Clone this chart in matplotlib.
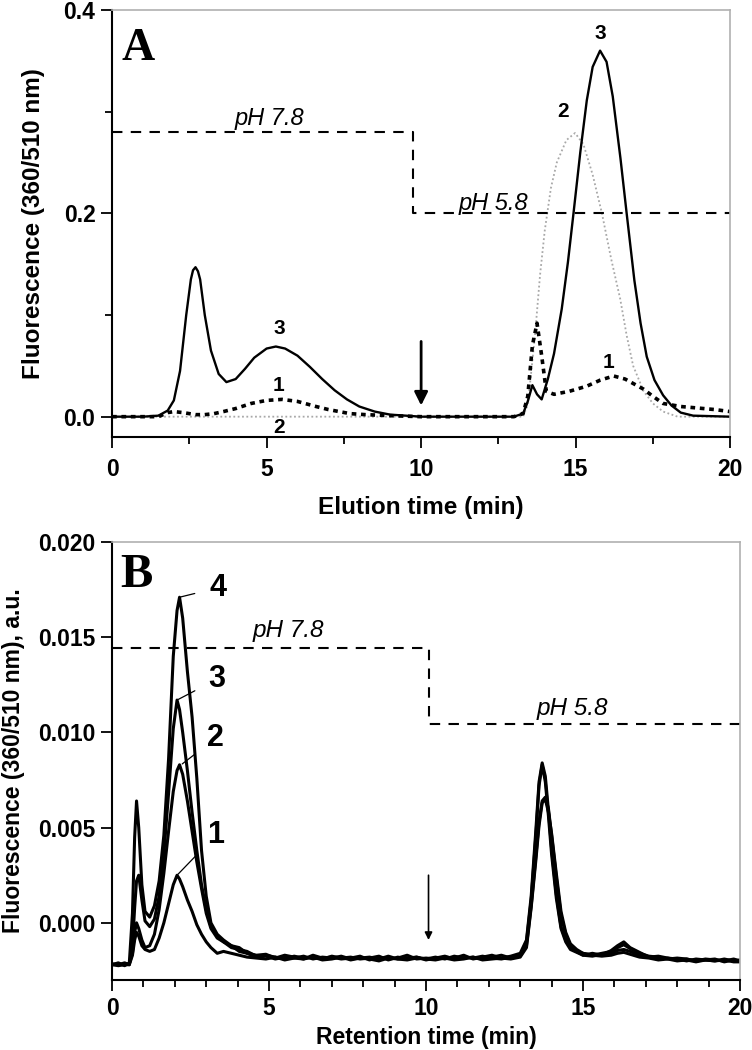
#!/usr/bin/env python3

import matplotlib
matplotlib.use("Agg")
import matplotlib.pyplot as plt
import numpy as np
from matplotlib.ticker import MultipleLocator, FormatStrFormatter

plt.rcParams["font.family"] = ["Liberation Sans", "DejaVu Sans"]

# ---- panel A data (elution time, min / fluorescence) ----
t3 = [0, 1.0, 1.5, 1.8, 2.0, 2.2, 2.4, 2.55, 2.62, 2.7, 2.78, 2.85, 3.0, 3.2, 3.45,
      3.7, 4.0, 4.3, 4.6, 5.0, 5.3, 5.6, 6.0, 6.4, 6.8, 7.2, 7.6, 8.0, 8.5, 9.0,
      9.5, 10, 11, 12, 13, 13.3, 13.45, 13.6, 13.75, 13.9, 14.1, 14.3, 14.55, 14.75, 14.93,
      15.15, 15.36, 15.55, 15.79, 16.0, 16.2, 16.45, 16.65, 16.9, 17.1, 17.3, 17.55, 17.83, 18.1, 18.4,
      18.8, 20]
y3 = [0, 0, 0.001, 0.006, 0.016, 0.045, 0.100, 0.135, 0.144, 0.147, 0.143, 0.135, 0.100, 0.065, 0.042,
      0.034, 0.037, 0.047, 0.058, 0.067, 0.069, 0.067, 0.060, 0.049, 0.037, 0.026, 0.017, 0.010, 0.005, 0.002,
      0.001, 0, 0, 0, 0, 0.003, 0.015, 0.031, 0.022, 0.017, 0.037, 0.062, 0.106, 0.152, 0.200,
      0.260, 0.311, 0.344, 0.360, 0.349, 0.315, 0.254, 0.200, 0.134, 0.092, 0.059, 0.036, 0.021, 0.011, 0.004,
      0.001, 0]

t1 = [0, 1.5, 1.8, 2.0, 2.3, 2.7, 3.0, 3.3, 3.6, 4.0, 4.5, 5.0, 5.5, 6.0, 6.6, 7.0, 7.7, 8.2, 9.0, 10,
      13, 13.3, 13.45, 13.6, 13.75, 13.9, 14.05, 14.3, 14.8, 15.36, 15.8, 16.23, 16.6, 17.2, 17.5, 17.83,
      18.4, 19.5, 20]
y1 = [0, 0, 0.004, 0.005, 0.004, 0.002, 0.002, 0.003, 0.005, 0.008, 0.013, 0.016, 0.017, 0.015, 0.010,
      0.007, 0.003, 0.002, 0.001, 0, 0, 0.003, 0.02, 0.07, 0.092, 0.06, 0.025, 0.022, 0.025, 0.030, 0.036,
      0.040, 0.037, 0.027, 0.02, 0.013, 0.010, 0.007, 0.005]

t2 = [0, 13.3, 13.45, 13.55, 13.69, 13.85, 14.0, 14.2, 14.39, 14.7, 14.98, 15.25, 15.55, 15.85, 16.15,
      16.44, 16.65, 16.86, 17.2, 17.5, 17.83, 18.3, 20]
y2 = [0, 0, 0.012, 0.04, 0.082, 0.14, 0.183, 0.225, 0.25, 0.272, 0.279, 0.268, 0.238, 0.2, 0.155,
      0.116, 0.08, 0.05, 0.025, 0.013, 0.005, 0, 0]

ph_a_x = [0, 9.75, 9.75, 20]
ph_a_y = [0.28, 0.28, 0.2, 0.2]

# ---- panel B data (retention time, min / fluorescence x 1e-3) ----
t_b = [0.0, 0.2, 0.4, 0.55, 0.65, 0.72, 0.78, 0.85, 0.95, 1.05,
       1.2, 1.35, 1.5, 1.65, 1.8, 1.95, 2.07, 2.15, 2.25, 2.4,
       2.55, 2.7, 2.85, 3.0, 3.15, 3.35, 3.55, 3.8, 4.05, 4.3,
       4.6, 4.9, 5.2, 5.5, 5.8, 6.1, 6.4, 6.7, 7.0, 7.3,
       7.6, 7.9, 8.2, 8.5, 8.8, 9.1, 9.4, 9.7, 10.0, 10.3,
       10.6, 10.9, 11.2, 11.5, 11.8, 12.1, 12.4, 12.7, 13.0, 13.2,
       13.35, 13.5, 13.6, 13.7, 13.8, 13.9, 14.0, 14.15, 14.3, 14.45,
       14.6, 14.8, 15.0, 15.3, 15.6, 15.9, 16.1, 16.3, 16.5, 16.8,
       17.1, 17.4, 17.7, 18.0, 18.3, 18.6, 18.9, 19.2, 19.5, 19.8, 20.0]

b4 = [-2.2, -2.1, -2.25, -2.1, 0.5, 4.5, 6.4, 5.0, 2.0, 0.6,
      0.3, 0.9, 2.2, 4.6, 8.6, 14.0, 16.4, 17.1, 16.0, 13.2,
      10.8, 7.6, 3.8, 1.4, 0.0, -0.6, -0.9, -1.2, -1.3, -1.6,
      -1.7, -1.65, -1.85, -1.7, -1.8, -1.9, -1.7, -1.85, -1.8, -1.9,
      -1.85, -1.75, -1.95, -1.8, -1.9, -1.85, -1.7, -1.9, -1.85, -1.9,
      -1.8, -1.85, -1.7, -1.9, -1.8, -1.7, -1.85, -1.75, -1.6, -0.9,
      1.4, 4.9, 7.4, 8.4, 7.7, 5.9, 3.9, 1.5, -0.2, -0.9,
      -1.3, -1.5, -1.6, -1.7, -1.6, -1.5, -1.3, -1.15, -1.35, -1.6,
      -1.75, -1.8, -1.9, -1.85, -1.9, -2.0, -1.9, -1.95, -2.0, -1.9, -2.0]
b3 = [-2.15, -2.2, -2.1, -2.2, -1.2, 0.8, 2.2, 2.5, 1.2, 0.1,
      -0.2, 0.2, 1.4, 3.6, 6.8, 10.2, 11.7, 11.2, 10.0, 8.0,
      5.8, 3.8, 2.0, 0.7, -0.2, -0.7, -1.0, -1.3, -1.4, -1.5,
      -1.75, -1.7, -1.8, -1.9, -1.75, -1.85, -1.8, -1.9, -1.75, -1.85,
      -1.8, -1.9, -1.85, -1.75, -1.95, -1.8, -1.9, -1.8, -1.9, -1.8,
      -1.9, -1.75, -1.85, -1.8, -1.9, -1.8, -1.7, -1.85, -1.7, -1.0,
      1.2, 4.6, 7.2, 8.3, 7.4, 5.6, 3.6, 1.3, -0.3, -1.0,
      -1.4, -1.55, -1.7, -1.6, -1.7, -1.45, -1.2, -1.0, -1.3, -1.55,
      -1.8, -1.75, -1.85, -1.9, -2.0, -1.9, -1.95, -2.0, -1.9, -2.0, -1.95]
b2 = [-2.2, -2.15, -2.2, -2.15, -1.6, -0.5, 0.0, -0.3, -0.9, -1.3,
      -1.2, -0.6, 0.7, 2.6, 4.8, 6.9, 8.0, 8.3, 7.8, 6.4,
      4.8, 3.2, 1.8, 0.5, -0.3, -0.8, -1.0, -1.2, -1.5, -1.6,
      -1.8, -1.75, -1.9, -1.8, -1.85, -1.75, -1.9, -1.8, -1.85, -1.75,
      -1.9, -1.85, -1.8, -1.9, -1.75, -1.9, -1.85, -1.8, -1.95, -1.85,
      -1.75, -1.9, -1.8, -1.85, -1.75, -1.85, -1.9, -1.8, -1.75, -1.2,
      0.9, 3.5, 5.3, 6.4, 6.6, 6.0, 4.6, 2.4, 0.4, -0.6,
      -1.2, -1.5, -1.7, -1.75, -1.65, -1.6, -1.45, -1.4, -1.5, -1.7,
      -1.8, -1.9, -1.85, -1.95, -1.9, -2.0, -1.95, -1.9, -2.05, -1.95, -2.0]
b1 = [-2.2, -2.25, -2.2, -2.2, -1.7, -0.9, -0.5, -0.7, -1.2, -1.4,
      -1.5, -1.4, -0.8, 0.0, 1.0, 2.0, 2.5, 2.3, 1.9, 1.2,
      0.6, -0.1, -0.6, -1.0, -1.3, -1.6, -1.5, -1.6, -1.7, -1.8,
      -1.85, -1.9, -1.8, -1.95, -1.85, -1.9, -1.8, -1.95, -1.9, -1.8,
      -1.95, -1.85, -1.9, -2.0, -1.85, -1.9, -1.95, -1.85, -1.9, -1.95,
      -1.85, -1.95, -1.9, -1.8, -1.95, -1.9, -1.85, -1.9, -1.8, -1.3,
      0.8, 3.3, 5.1, 6.3, 6.5, 5.8, 4.7, 2.6, 0.6, -0.5,
      -1.1, -1.4, -1.6, -1.7, -1.75, -1.7, -1.6, -1.55, -1.65, -1.8,
      -1.85, -1.95, -1.9, -2.0, -1.95, -2.05, -1.95, -2.0, -1.95, -2.05, -2.05]

ph_b_x = [0, 10.08, 10.08, 20]
ph_b_y = [0.01443, 0.01443, 0.01045, 0.01045]

# peak labels: (text, peak x, peak y, label x, label y)
labels_b = [("4", 2.15, 0.0171, 3.38, 0.0176),
            ("3", 2.07, 0.0117, 3.35, 0.0128),
            ("2", 2.2, 0.0083, 3.3, 0.0097),
            ("1", 2.07, 0.0025, 3.3, 0.0046)]


def style_axes(ax, xpad=7):
    for side in ["left", "bottom"]:
        ax.spines[side].set_linewidth(1.5)
        ax.spines[side].set_color("black")
    for side in ["top", "right"]:
        ax.spines[side].set_linewidth(1.2)
        ax.spines[side].set_color("#b0b0b0")
    ax.tick_params(which="both", direction="out", top=False, right=False,
                   width=1.3, labelsize=16.5)
    ax.tick_params(which="major", length=8)
    ax.tick_params(which="minor", length=5)
    ax.tick_params(axis="x", pad=xpad)
    ax.tick_params(axis="y", pad=4)
    for lab in ax.get_xticklabels() + ax.get_yticklabels():
        lab.set_fontweight("bold")


fig = plt.figure(figsize=(7.52, 10.5), dpi=100)

# ---------------- panel A ----------------
axA = fig.add_axes([0.149, 0.5838, 0.822, 0.4067])
axA.plot(t2, y2, color="#a8a8a8", lw=1.3, linestyle=(0, (1, 1.4)))
axA.plot(t3, y3, color="black", lw=1.7)
axA.plot(t1, y1, color="black", lw=2.6, linestyle=(0, (1.3, 1.3)))
axA.plot(ph_a_x, ph_a_y, color="black", lw=1.5, linestyle=(0, (5, 4)))

axA.set_xlim(0, 20)
axA.set_ylim(-0.02, 0.4)
axA.xaxis.set_major_locator(MultipleLocator(5))
axA.xaxis.set_minor_locator(MultipleLocator(2.5))
axA.yaxis.set_major_locator(MultipleLocator(0.2))
axA.yaxis.set_minor_locator(MultipleLocator(0.1))
axA.yaxis.set_major_formatter(FormatStrFormatter("%.1f"))
style_axes(axA)

axA.set_xlabel("Elution time (min)", fontsize=17.5, fontweight="bold")
axA.set_ylabel("Fluorescence (360/510 nm)", fontsize=17.5, fontweight="bold")
axA.xaxis.set_label_coords(0.5, -0.138)
axA.yaxis.set_label_coords(-0.108, 0.5)

axA.text(0.016, 0.958, "A", transform=axA.transAxes, fontsize=33,
         fontweight="bold", family="Liberation Serif", va="top", ha="left")
axA.text(5.1, 0.287, "pH 7.8", fontsize=17, style="italic", ha="center", va="baseline")
axA.text(12.35, 0.203, "pH 5.8", fontsize=17, style="italic", ha="center", va="baseline")

for txt, x, y in [("3", 5.4, 0.087), ("1", 5.4, 0.031), ("2", 5.4, -0.011),
                  ("3", 15.8, 0.377), ("2", 14.6, 0.30), ("1", 16.05, 0.053)]:
    axA.text(x, y, txt, fontsize=15, fontweight="bold", ha="center", va="center")

axA.annotate("", xy=(10, 0.011), xytext=(10, 0.074),
             arrowprops=dict(arrowstyle="-|>", color="black", lw=2,
                             mutation_scale=20, shrinkA=0, shrinkB=0))

# ---------------- panel B ----------------
axB = fig.add_axes([0.149, 0.0667, 0.835, 0.4171])
for tr in [b1, b2, b3, b4]:
    axB.plot(t_b, np.array(tr) / 1000, color="black", lw=2.2)
axB.plot(ph_b_x, ph_b_y, color="black", lw=1.5, linestyle=(0, (5, 4)))

axB.set_xlim(0, 20)
axB.set_ylim(-0.003, 0.020)
axB.xaxis.set_major_locator(MultipleLocator(5))
axB.xaxis.set_minor_locator(MultipleLocator(1))
axB.yaxis.set_major_locator(MultipleLocator(0.005))
axB.yaxis.set_major_formatter(FormatStrFormatter("%.3f"))
style_axes(axB, xpad=4)

axB.set_xlabel("Retention time (min)", fontsize=16.5, fontweight="bold")
axB.set_ylabel("Fluorescence (360/510 nm), a.u.", fontsize=16.5, fontweight="bold")
axB.xaxis.set_label_coords(0.5, -0.104)
axB.yaxis.set_label_coords(-0.138, 0.5)

axB.text(0.013, 0.975, "B", transform=axB.transAxes, fontsize=35,
         fontweight="bold", family="Liberation Serif", va="top", ha="left")
axB.text(5.6, 0.0150, "pH 7.8", fontsize=17.5, style="italic", ha="center", va="baseline")
axB.text(14.65, 0.0109, "pH 5.8", fontsize=17.5, style="italic", ha="center", va="baseline")

for txt, px, py, lx, ly in labels_b:
    axB.annotate(txt, xy=(px, py), xytext=(lx, ly), fontsize=22, fontweight="bold",
                 ha="center", va="center",
                 arrowprops=dict(arrowstyle="-", color="black", lw=0.9,
                                 shrinkA=9, shrinkB=1))

axB.annotate("", xy=(10.08, -0.0009), xytext=(10.08, 0.0025),
             arrowprops=dict(arrowstyle="-|>", color="black", lw=1.2,
                             mutation_scale=11, shrinkA=0, shrinkB=0))

fig.savefig("out.png", dpi=100)
